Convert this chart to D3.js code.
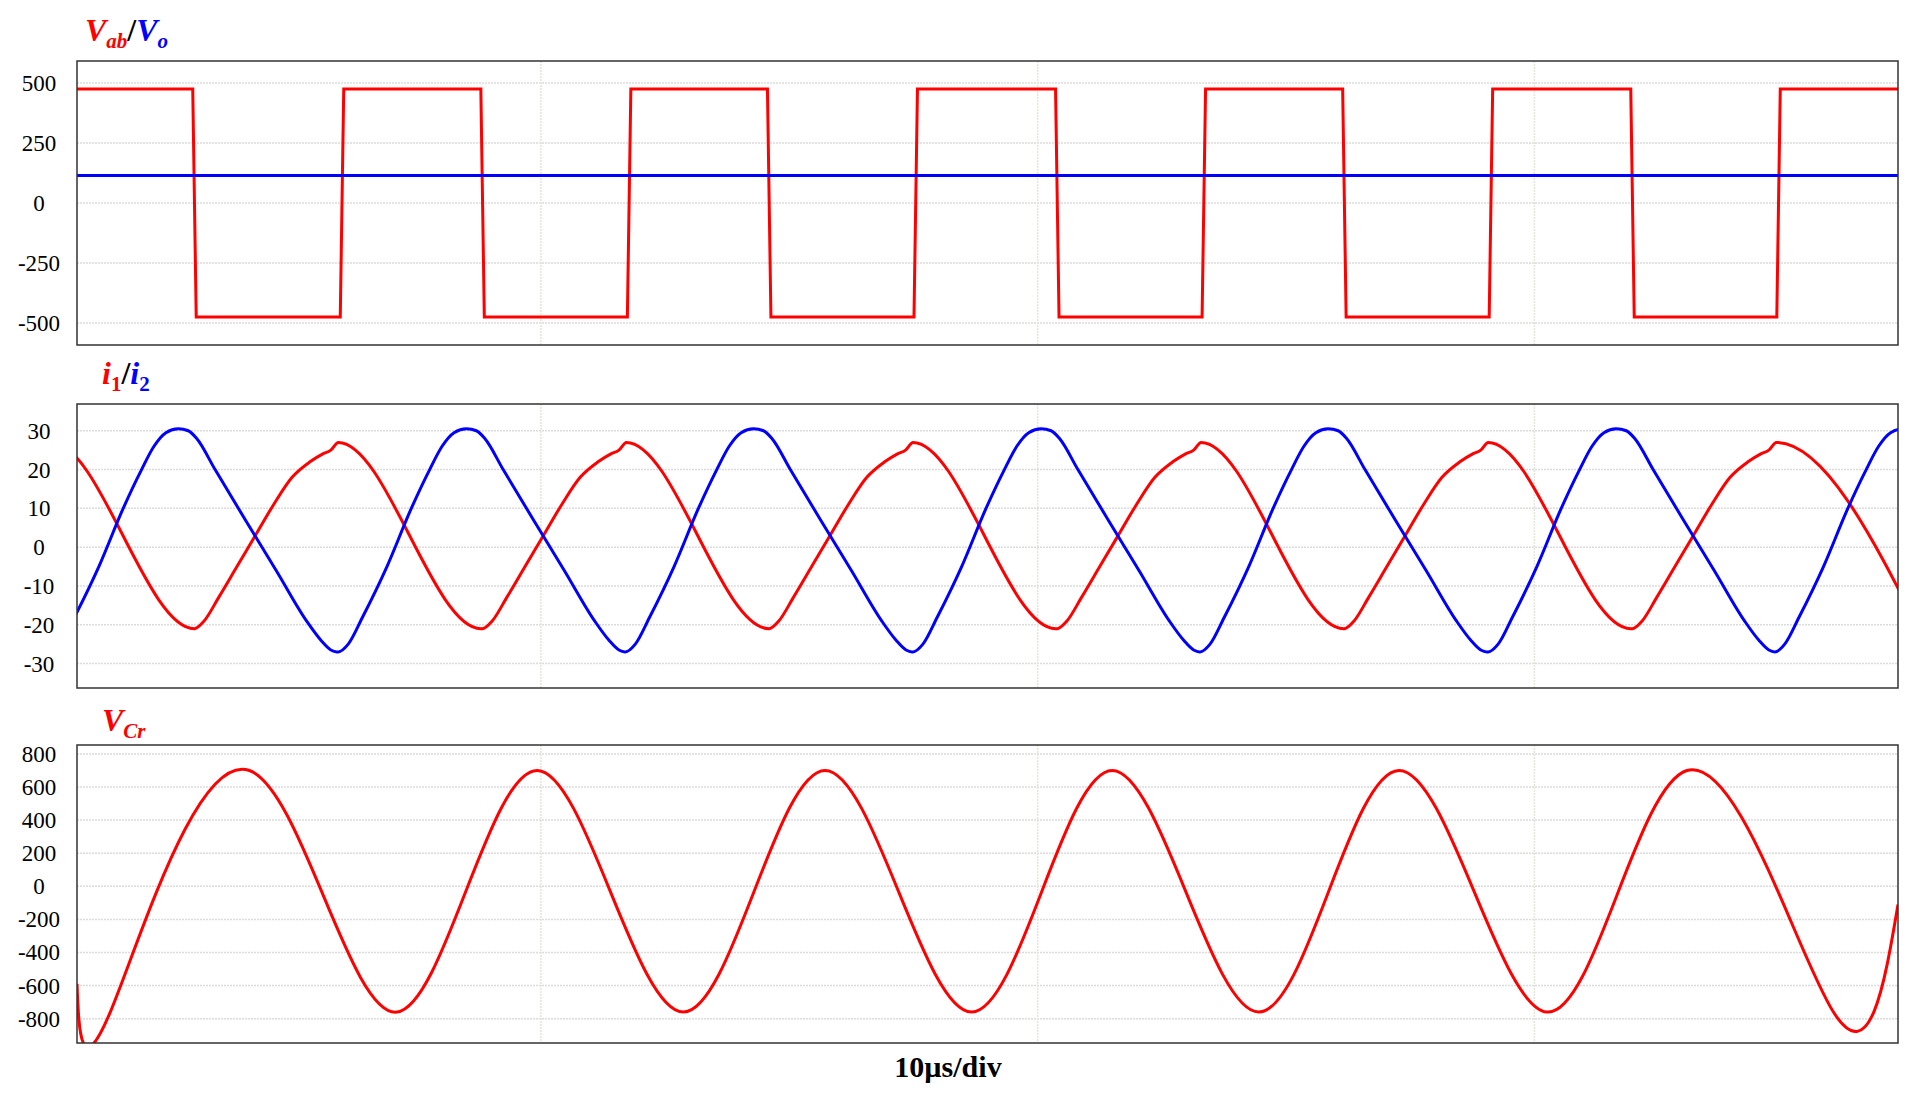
<!DOCTYPE html>
<html>
<head>
<meta charset="utf-8">
<script src="https://cdn.jsdelivr.net/npm/d3@7"></script>
<style>
body { margin: 0; background: #fff; }
text { font-family: "Liberation Serif", "Times New Roman", serif; }
</style>
</head>
<body>
<script>
// time window in microseconds
var tDomain = [0.66, 37.32];
var gridT = [10, 20, 30];

// Vab square wave: edge times (us)
var vabFall = [3.02, 8.82, 14.59, 20.39, 26.17, 31.97];
var vabRise = [5.99, 11.77, 17.54, 23.34, 29.12, 34.91];
var vabLevel = 475;
var voLevel = 115;

// i1 one cycle shape, starting at its trough
var i1Off = [0, 0.20, 0.49, 0.86, 1.23, 1.60, 1.97, 2.33, 2.58, 2.75, 2.90, 5.77];
var i1Val = [-21, -19, -13, -5, 3, 11, 18, 22, 24, 25, 27, -21];
var i1Starts = [-2.75, 3.02, 8.82, 14.59, 20.39, 26.17, 31.97];

// i2 one cycle shape, starting at its trough
var i2Off = [0, 0.20, 0.49, 0.98, 1.47, 1.84, 2.09, 2.33, 2.58, 2.78, 2.95, 3.32, 3.93, 4.55, 5.16, 5.45, 5.65, 5.77];
var i2Val = [-27, -25, -18, -5, 10, 20, 26, 29.5, 30.5, 30, 28, 20, 7, -6, -19, -24, -26.5, -27];
var i2Starts = [0.12, 5.92, 11.70, 17.49, 23.27, 29.07, 34.84];

// Vcr extremes
var vcrT = [0.66, 1.33, 4.13, 7.10, 9.93, 12.87, 15.72, 18.67, 21.50, 24.45, 27.27, 30.25, 33.07, 36.02, 37.32];
var vcrV = [-590, -760, 700, -760, 700, -760, 700, -760, 700, -760, 700, -760, 700, -760, -110];

var W = 1913, H = 1100;
var x0 = 77, x1 = 1898;
var svg = d3.select("body").append("svg").attr("width", W).attr("height", H);
var x = d3.scaleLinear().domain(tDomain).range([x0, x1]);

var panels = [
  {top: 61, bot: 345, dom: [-592, 592], ticks: [500, 250, 0, -250, -500]},
  {top: 404, bot: 688, dom: [-36.3, 36.9], ticks: [30, 20, 10, 0, -10, -20, -30]},
  {top: 745, bot: 1043, dom: [-947, 854], ticks: [800, 600, 400, 200, 0, -200, -400, -600, -800]}
];

function build(off, val, starts) {
  var pts = [];
  starts.forEach(function(s) {
    off.forEach(function(o, i) { pts.push([s + o, val[i]]); });
  });
  return pts;
}

var vabPts = [[tDomain[0], vabLevel]];
vabFall.forEach(function(f, i) {
  vabPts.push([f - 0.03, vabLevel], [f + 0.04, -vabLevel]);
  vabPts.push([vabRise[i] - 0.03, -vabLevel], [vabRise[i] + 0.04, vabLevel]);
});
vabPts.push([tDomain[1], vabLevel]);

var series = [
  [{pts: vabPts, c: "#ff0000", curve: d3.curveLinear},
   {pts: [[tDomain[0], voLevel], [tDomain[1], voLevel]], c: "#0000ff", curve: d3.curveLinear}],
  [{pts: build(i1Off, i1Val, i1Starts), c: "#ff0000", curve: d3.curveMonotoneX},
   {pts: build(i2Off, i2Val, i2Starts), c: "#0000ff", curve: d3.curveMonotoneX}],
  [{pts: vcrT.map(function(t, i) { return [t, vcrV[i]]; }), c: "#ff0000", curve: d3.curveNatural}]
];

panels.forEach(function(p, k) {
  var y = d3.scaleLinear().domain(p.dom).range([p.bot, p.top]);
  var g = svg.append("g");
  g.append("clipPath").attr("id", "clip" + k).append("rect")
    .attr("x", x0).attr("y", p.top).attr("width", x1 - x0).attr("height", p.bot - p.top);
  g.selectAll(".hg").data(p.ticks).enter().append("line")
    .attr("x1", x0).attr("x2", x1).attr("y1", y).attr("y2", y)
    .attr("stroke", "#dcdcdc").attr("stroke-width", 1.5).attr("stroke-dasharray", "2,1");
  g.selectAll(".vg").data(gridT).enter().append("line")
    .attr("x1", x).attr("x2", x).attr("y1", p.top).attr("y2", p.bot)
    .attr("stroke", "#e4e6d8").attr("stroke-width", 1.5).attr("stroke-dasharray", "2,1");
  g.selectAll(".tl").data(p.ticks).enter().append("text")
    .attr("x", 39).attr("y", function(d) { return y(d) + 8; })
    .attr("text-anchor", "middle").attr("font-size", 23).text(function(d) { return d; });
  series[k].forEach(function(s) {
    g.append("path").datum(s.pts)
      .attr("clip-path", "url(#clip" + k + ")")
      .attr("fill", "none").attr("stroke", s.c).attr("stroke-width", 3)
      .attr("d", d3.line().x(function(d) { return x(d[0]); }).y(function(d) { return y(d[1]); }).curve(s.curve));
  });
  g.append("rect").attr("x", x0).attr("y", p.top).attr("width", x1 - x0).attr("height", p.bot - p.top)
    .attr("fill", "none").attr("stroke", "#333").attr("stroke-width", 1.5);
});

function title(xp, yp, parts) {
  var t = svg.append("text").attr("x", xp).attr("y", yp)
    .attr("font-size", 32).attr("font-weight", "bold");
  parts.forEach(function(p) {
    var ts = t.append("tspan").attr("fill", p.c).text(p.s);
    if (p.it) ts.attr("font-style", "italic");
    if (p.sub) ts.attr("font-size", 21).attr("dy", 7);
    if (p.up) ts.attr("dy", -7);
  });
}
title(85, 41, [{s: "V", c: "#ff0000", it: 1}, {s: "ab", c: "#ff0000", it: 1, sub: 1},
  {s: "/", c: "#000", up: 1}, {s: "V", c: "#0000ff", it: 1}, {s: "o", c: "#0000ff", it: 1, sub: 1}]);
title(102, 384, [{s: "i", c: "#ff0000", it: 1}, {s: "1", c: "#ff0000", sub: 1},
  {s: "/", c: "#000", up: 1}, {s: "i", c: "#0000ff", it: 1}, {s: "2", c: "#0000ff", sub: 1}]);
title(102, 731, [{s: "V", c: "#ff0000", it: 1}, {s: "Cr", c: "#ff0000", it: 1, sub: 1}]);

svg.append("text").attr("x", 948).attr("y", 1077).attr("text-anchor", "middle")
  .attr("font-size", 30).attr("font-weight", "bold").text("10µs/div");
</script>
</body>
</html>
